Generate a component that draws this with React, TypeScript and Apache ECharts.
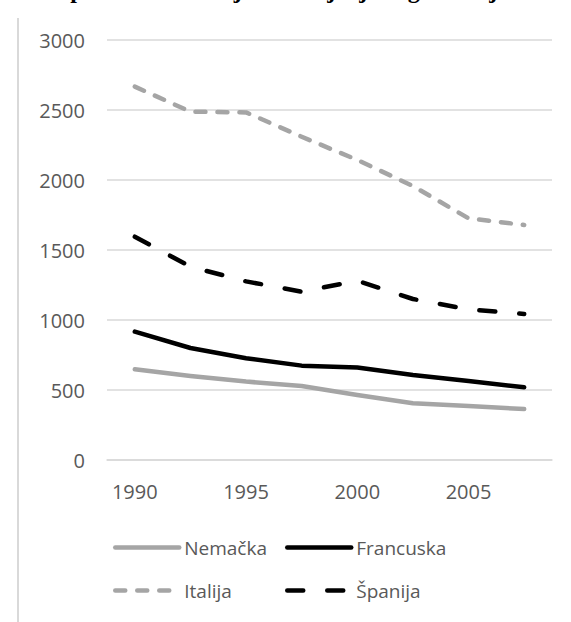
import React, { useEffect, useRef } from "react";
import * as echarts from "echarts";

const categories = ["1990", "1992", "1995", "1997", "2000", "2002", "2005", "2007"];
const nemacka = [648, 600, 560, 529, 464, 405, 386, 364];
const francuska = [917, 800, 727, 674, 660, 607, 564, 519];
const italija = [2667, 2488, 2483, 2309, 2143, 1957, 1726, 1679];
const spanija = [1595, 1381, 1276, 1202, 1281, 1150, 1076, 1043];
const seriesNames = ["Nemačka", "Francuska", "Italija", "Španija"];
const titleText = "Evropski trend emisija i smanjenja zagađivanja";

export default function App() {
  const ref = useRef<HTMLDivElement>(null);
  useEffect(() => {
    document.body.style.margin = "0";
    const chart = echarts.init(ref.current!, null, { renderer: "svg" });
    const font = "Open Sans";
    const gray = "#a5a5a5";
    const dashes: Record<string, any> = {
      [seriesNames[0]]: { color: gray, type: "solid" },
      [seriesNames[1]]: { color: "#000", type: "solid" },
      [seriesNames[2]]: { color: gray, type: [10, 12] },
      [seriesNames[3]]: { color: "#000", type: [16, 24] },
    };
    const mkLegend = (name: string, left: number, top: number) => ({
      data: [name],
      left,
      top,
      padding: 0,
      itemWidth: 64,
      itemHeight: 14,
      itemGap: 0,
      itemStyle: { opacity: 0 },
      lineStyle: { width: 4.5, color: dashes[name].color, type: dashes[name].type, cap: "round" },
      textStyle: { fontFamily: font, fontSize: 19, color: "#595959" },
      selectedMode: false,
    });
    chart.setOption({
      animation: false,
      backgroundColor: "#ffffff",
      graphic: [
        {
          type: "line",
          shape: { x1: 18, y1: 18, x2: 18, y2: 622 },
          style: { stroke: "#d9d9d9", lineWidth: 2 },
        },
        {
          type: "text",
          x: 20,
          y: 2,
          style: {
            text: titleText,
            font: "bold 24px 'Liberation Serif'",
            fill: "#000",
            verticalAlign: "bottom",
          },
        },
      ],
      grid: { left: 107, top: 40, width: 445, height: 420 },
      xAxis: {
        type: "category",
        data: categories,
        boundaryGap: true,
        axisLine: { show: true, lineStyle: { color: "#d9d9d9", width: 1.5 } },
        axisTick: { show: false },
        axisLabel: { interval: 1, margin: 21, fontFamily: font, fontSize: 20, color: "#595959" },
      },
      yAxis: {
        type: "value",
        min: 0,
        max: 3000,
        interval: 500,
        axisLine: { show: false },
        axisTick: { show: false },
        splitLine: { lineStyle: { color: "#d9d9d9", width: 1.5 } },
        axisLabel: {
          margin: 22,
          fontFamily: font,
          fontSize: 20,
          color: "#595959",
          formatter: (v: number) => String(v),
        },
      },
      legend: [
        mkLegend(seriesNames[0], 113, 538),
        mkLegend(seriesNames[1], 285, 538),
        mkLegend(seriesNames[2], 113, 581),
        mkLegend(seriesNames[3], 285, 581),
      ],
      series: [
        {
          name: seriesNames[0],
          type: "line",
          data: nemacka,
          symbol: "none",
          itemStyle: { color: gray },
          lineStyle: { color: gray, width: 4.5, cap: "round", join: "round" },
        },
        {
          name: seriesNames[1],
          type: "line",
          data: francuska,
          symbol: "none",
          itemStyle: { color: "#000" },
          lineStyle: { color: "#000", width: 4.5, cap: "round", join: "round" },
        },
        {
          name: seriesNames[2],
          type: "line",
          data: italija,
          symbol: "none",
          itemStyle: { color: gray },
          lineStyle: { color: gray, width: 4.5, cap: "round", join: "round", type: [10, 12] },
        },
        {
          name: seriesNames[3],
          type: "line",
          data: spanija,
          symbol: "none",
          itemStyle: { color: "#000" },
          lineStyle: { color: "#000", width: 4.5, cap: "round", join: "round", type: [16, 24] },
        },
      ],
    });
    return () => chart.dispose();
  }, []);
  return <div ref={ref} style={{ width: 571, height: 622 }} />;
}
